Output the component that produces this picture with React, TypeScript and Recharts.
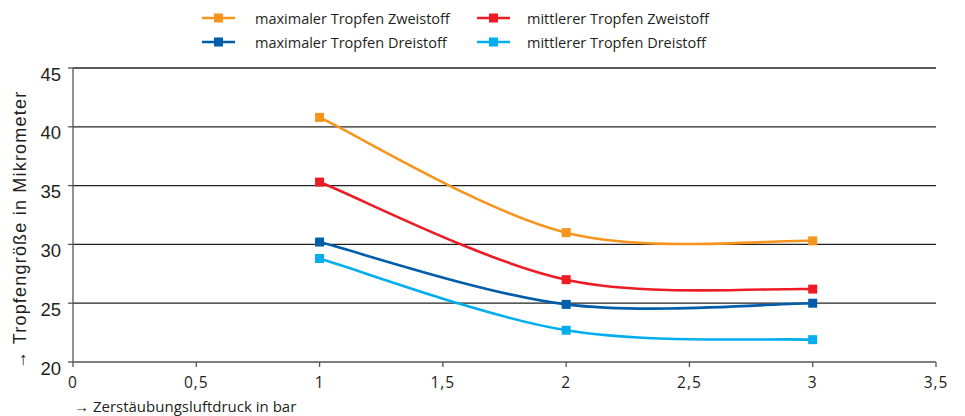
import React from 'react'
import { LineChart, Line, XAxis, YAxis, CartesianGrid, Label } from 'recharts'

const druck = [1, 2, 3]
const maxZweistoff = [40.8, 31.0, 30.3]
const mitZweistoff = [35.3, 27.0, 26.2]
const maxDreistoff = [30.2, 24.9, 25.0]
const mitDreistoff = [28.8, 22.7, 21.9]
const xTicks = [0, 0.5, 1, 1.5, 2, 2.5, 3, 3.5]
const yTicks = [20, 25, 30, 35, 40, 45]

const series = [
  { key: 'maxZ', name: 'maximaler Tropfen Zweistoff', color: '#F7941D', values: maxZweistoff },
  { key: 'mitZ', name: 'mittlerer Tropfen Zweistoff', color: '#ED1C24', values: mitZweistoff },
  { key: 'maxD', name: 'maximaler Tropfen Dreistoff', color: '#005DAA', values: maxDreistoff },
  { key: 'mitD', name: 'mittlerer Tropfen Dreistoff', color: '#00AEEF', values: mitDreistoff },
]

const data = druck.map((x, i) => {
  const row: Record<string, number> = { x }
  series.forEach(s => { row[s.key] = s.values[i] })
  return row
})

// Excel-like smoothed line (Catmull-Rom as cubic bezier)
function smoothCurve(context: any) {
  let pts: number[][] = []
  return {
    areaStart() {},
    areaEnd() {},
    lineStart() { pts = [] },
    point(x: number, y: number) { pts.push([+x, +y]) },
    lineEnd() {
      const n = pts.length
      if (!n) return
      context.moveTo(pts[0][0], pts[0][1])
      for (let i = 0; i < n - 1; i++) {
        const p0 = pts[Math.max(i - 1, 0)]
        const p1 = pts[i]
        const p2 = pts[i + 1]
        const p3 = pts[Math.min(i + 2, n - 1)]
        context.bezierCurveTo(
          p1[0] + (p2[0] - p0[0]) / 6, p1[1] + (p2[1] - p0[1]) / 6,
          p2[0] - (p3[0] - p1[0]) / 6, p2[1] - (p3[1] - p1[1]) / 6,
          p2[0], p2[1],
        )
      }
    },
  }
}

const squareDot = (color: string) => (props: any) => {
  const { cx, cy, index } = props
  return <rect key={index} x={cx - 4.5} y={cy - 4.5} width={9} height={9} fill={color} />
}

function LegendBox() {
  return (
    <div style={{ position: 'absolute', left: 0, top: 0, width: 965, height: 60, fontFamily: '"Open Sans", sans-serif', fontSize: 14.5, color: '#231f20' }}>
      {series.map((s, i) => {
        const col = i % 2
        const row = Math.floor(i / 2)
        const left = col === 0 ? 202 : 477
        const top = row === 0 ? 18 : 42
        return (
          <div key={s.key} style={{ position: 'absolute', left, top: top - 10, height: 20, display: 'flex', alignItems: 'center' }}>
            <svg width={33} height={20}>
              <line x1={0} y1={10} x2={33} y2={10} stroke={s.color} strokeWidth={2.5} />
              <rect x={12} y={5.5} width={9} height={9} fill={s.color} />
            </svg>
            <span style={{ marginLeft: col === 0 ? 20 : 17, whiteSpace: 'nowrap' }}>{s.name}</span>
          </div>
        )
      })}
    </div>
  )
}

const yLabel = (props: any) => {
  const vb = props.viewBox
  const cy = vb.y + vb.height / 2 + 15
  return (
    <text x={20} y={cy} transform={`rotate(-90 20 ${cy})`} textAnchor="middle" dominantBaseline="central"
      style={{ fill: '#231f20', fontSize: 18, letterSpacing: 1.2, fontFamily: '"Liberation Sans", Arial, sans-serif' }}>
      → Tropfengröße in Mikrometer
    </text>
  )
}

export default function App() {
  const tickStyle = { fill: '#231f20', fontSize: 15, fontFamily: '"Liberation Sans", Arial, sans-serif' }
  return (
    <div style={{ position: 'absolute', left: 0, top: 0, width: 965, height: 416, background: '#fff' }}>
      <LineChart width={965} height={416} data={data} margin={{ top: 68, right: 29, bottom: 0, left: 23 }}>
        <CartesianGrid vertical={false} stroke="#222" strokeWidth={1.3} horizontalValues={[25, 30, 35, 40, 45]} />
        <XAxis
          type="number" dataKey="x" domain={[0, 3.5]} ticks={xTicks} interval={0}
          tickFormatter={v => String(v).replace('.', ',')}
          tick={{ ...tickStyle, fontFamily: '"Open Sans", sans-serif', fontSize: 15.5, letterSpacing: 1 }}
          stroke="#555" strokeWidth={1.3} tickSize={5} tickMargin={10} height={54}
        >
          <Label position="insideBottomLeft" offset={0} dy={-4} dx={1}
            value="→ Zerstäubungsluftdruck in bar"
            style={{ fill: '#231f20', fontSize: 15, fontFamily: '"Open Sans", sans-serif', textAnchor: 'start' }} />
        </XAxis>
        <YAxis
          type="number" domain={[20, 45]} ticks={yTicks} interval={0} width={50}
          tick={{ ...tickStyle, fontSize: 18.5, dy: 6 }} stroke="#555" strokeWidth={1.3} tickSize={5} tickMargin={7}
        >
          <Label content={yLabel} />
        </YAxis>
        {series.map(s => (
          <Line key={s.key} dataKey={s.key} name={s.name} type={smoothCurve as any}
            stroke={s.color} strokeWidth={2.6} dot={squareDot(s.color)} activeDot={false}
            isAnimationActive={false} />
        ))}
      </LineChart>
      <LegendBox />
    </div>
  )
}
